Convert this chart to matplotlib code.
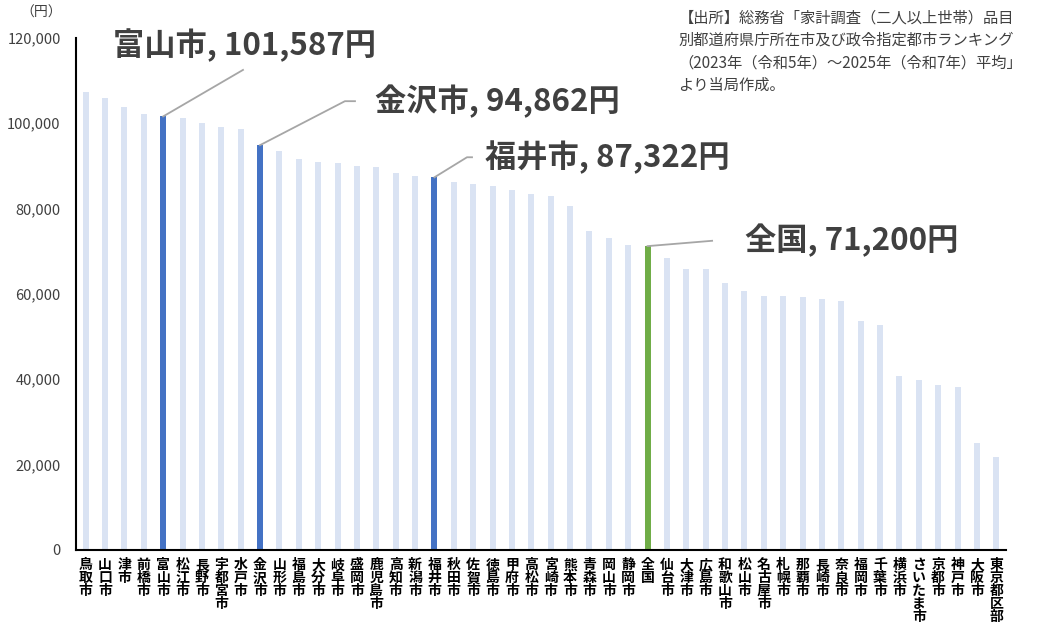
import matplotlib
matplotlib.use("Agg")
import matplotlib.pyplot as plt
from matplotlib.ticker import FuncFormatter

plt.rcParams['font.family'] = ['Noto Sans CJK JP', 'DejaVu Sans']

cities = ["鳥取市", "山口市", "津市", "前橋市", "富山市", "松江市", "長野市", "宇都宮市", "水戸市", "金沢市",
          "山形市", "福島市", "大分市", "岐阜市", "盛岡市", "鹿児島市", "高知市", "新潟市", "福井市", "秋田市",
          "佐賀市", "徳島市", "甲府市", "高松市", "宮崎市", "熊本市", "青森市", "岡山市", "静岡市", "全国",
          "仙台市", "大津市", "広島市", "和歌山市", "松山市", "名古屋市", "札幌市", "那覇市", "長崎市", "奈良市",
          "福岡市", "千葉市", "横浜市", "さいたま市", "京都市", "神戸市", "大阪市", "東京都区部"]
values = [107400, 105800, 103700, 102100, 101587, 101300, 100100, 99100, 98700, 94862,
          93500, 91600, 90900, 90600, 90000, 89700, 88300, 87600, 87322, 86200,
          85700, 85400, 84300, 83300, 82900, 80700, 74700, 73200, 71350, 71200,
          68300, 65800, 65800, 62500, 60700, 59500, 59500, 59200, 58800, 58300,
          53600, 52700, 40700, 39900, 38600, 38100, 25000, 21700]
highlight_blue = ["富山市", "金沢市", "福井市"]
highlight_green = ["全国"]
y_ticks = [0, 20000, 40000, 60000, 80000, 100000, 120000]
callouts = {"富山市": "富山市, 101,587円", "金沢市": "金沢市, 94,862円",
            "福井市": "福井市, 87,322円", "全国": "全国, 71,200円"}
source_note = ("【出所】総務省「家計調査（二人以上世帯）品目\n"
               "別都道府県庁所在市及び政令指定都市ランキング\n"
               "（2023年（令和5年）～2025年（令和7年）平均」\n"
               "より当局作成。")

LIGHT = "#DAE3F3"
BLUE = "#4472C4"
GREEN = "#70AD47"

fig = plt.figure(figsize=(10.42, 6.31), dpi=100)
ax = fig.add_axes([0.0729, 0.1284, 0.8926, 0.8116])

colors = []
for c in cities:
    if c in highlight_blue:
        colors.append(BLUE)
    elif c in highlight_green:
        colors.append(GREEN)
    else:
        colors.append(LIGHT)

x = list(range(len(cities)))
ax.bar(x, values, width=0.31, color=colors, zorder=2)

ax.set_xlim(-0.5, len(cities) - 0.5)
ax.set_ylim(0, 120000)
ax.set_yticks(y_ticks)
ax.yaxis.set_major_formatter(FuncFormatter(lambda v, p: f"{int(v):,}"))
ax.tick_params(axis='y', length=0, pad=11, labelsize=10.5, labelcolor="#404040")
ax.tick_params(axis='x', length=0, pad=6)
ax.set_xticks(x)
ax.set_xticklabels(["\n".join(list(c)) for c in cities], fontsize=10, fontweight='bold',
                   linespacing=0.9, va='top', color="#000000")

for s in ["top", "right"]:
    ax.spines[s].set_visible(False)
ax.spines["left"].set_linewidth(1.5)
ax.spines["bottom"].set_linewidth(1.5)
ax.spines["left"].set_color("black")
ax.spines["bottom"].set_color("black")

# callouts: leader line points (offsets from bar top) and text anchor offset
layout = {
    "富山市": ([(4.12, 10900)], (-2.59, 16700)),
    "金沢市": ([(4.38, 10300), (4.9, 10300)], (5.93, 10300)),
    "福井市": ([(1.68, 4700), (1.94, 4700)], (2.61, 4700)),
    "全国": ([(3.33, 1250)], (5.03, 1400)),
}
for name, label in callouts.items():
    i = cities.index(name)
    v = values[i]
    pts, (tx, ty) = layout[name]
    xs = [i] + [i + dx for dx, dy in pts]
    ys = [v] + [v + dy for dx, dy in pts]
    ax.plot(xs, ys, color="#A6A6A6", lw=1.3, zorder=3, clip_on=False)
    ax.text(i + tx, v + ty, label, fontsize=22.5, fontweight='bold', color="#404040",
            ha='left', va='center', clip_on=False)

fig.text(0.02, 0.98, "（円）", fontsize=10, color="#404040", ha='left', va='center')
fig.text(0.651, 0.985, source_note, fontsize=11, color="#404040", ha='left', va='top',
         linespacing=1.42)

fig.savefig("out.png", dpi=100)
